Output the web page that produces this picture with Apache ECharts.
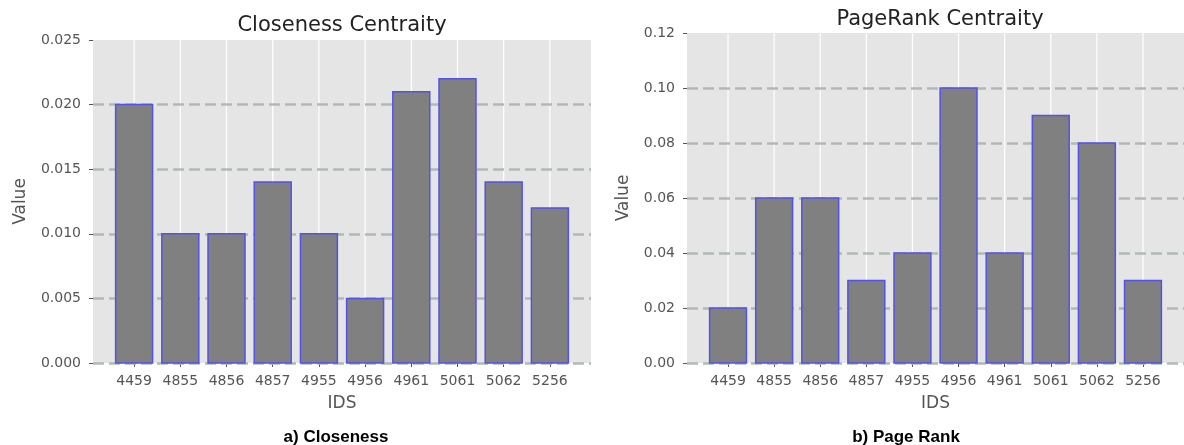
<!DOCTYPE html>
<html>
<head>
<meta charset="utf-8">
<script src="https://cdn.jsdelivr.net/npm/echarts@6/dist/echarts.min.js"></script>
<style>
  html, body { margin: 0; padding: 0; background: #ffffff; }
  #chart { width: 1184px; height: 445px; }
</style>
</head>
<body>
<div id="chart"></div>
<script>
// Node IDs shared by both panels
const ids = ['4459', '4855', '4856', '4857', '4955', '4956', '4961', '5061', '5062', '5256'];

// Closeness centrality per node
const closenessValues = [0.020, 0.010, 0.010, 0.014, 0.010, 0.005, 0.021, 0.022, 0.014, 0.012];
// PageRank centrality per node
const pagerankValues = [0.02, 0.06, 0.06, 0.03, 0.04, 0.10, 0.04, 0.09, 0.08, 0.03];

// Value-axis ranges and tick steps
const closenessAxis = [0, 0.025, 0.005];
const pagerankAxis = [0, 0.12, 0.02];

const idx = ids.map((_, i) => i);
const FONT = 'DejaVu Sans';
const LABEL = '#555555';

function xAxisFor(gridIndex) {
  return {
    type: 'value', gridIndex,
    min: -0.89, max: ids.length - 1 + 0.89,
    axisLine: { show: false, onZero: false },
    splitLine: { show: false },
    axisTick: { show: true, customValues: idx, length: 4, lineStyle: { color: LABEL, width: 1 } },
    axisLabel: {
      customValues: idx, margin: 11,
      formatter: v => ids[Math.round(v)],
      color: LABEL, fontFamily: FONT, fontSize: 14
    },
    name: 'IDS', nameLocation: 'middle', nameGap: 32,
    nameTextStyle: { color: LABEL, fontFamily: FONT, fontSize: 17 }
  };
}

function yAxisFor(gridIndex, range, digits, gap) {
  return {
    type: 'value', gridIndex, z: 1.5,
    min: range[0], max: range[1], interval: range[2],
    axisLine: { show: false, onZero: false },
    axisTick: { show: true, length: 4, lineStyle: { color: LABEL, width: 1 } },
    axisLabel: {
      margin: 12, color: LABEL, fontFamily: FONT, fontSize: 14,
      formatter: v => v.toFixed(digits)
    },
    splitLine: {
      show: true, showMaxLine: false,
      lineStyle: { color: '#b0bab5', width: 2.5, type: [11, 5] }
    },
    name: 'Value', nameLocation: 'middle', nameGap: gap,
    nameTextStyle: { color: LABEL, fontFamily: FONT, fontSize: 17 }
  };
}

// White vertical guides at each category position
function guideSeries(k, top) {
  return {
    type: 'custom', xAxisIndex: k, yAxisIndex: k, z: 1, silent: true,
    data: idx.map(i => [i]),
    renderItem(params, api) {
      const i = api.value(0);
      const a = api.coord([i, top]);
      const b = api.coord([i, 0]);
      return { type: 'line', shape: { x1: a[0], y1: a[1], x2: b[0], y2: b[1] },
               style: { stroke: '#ffffff', lineWidth: 1.2 } };
    }
  };
}

// Bars of width 0.8 category units
function barSeries(k, values) {
  return {
    type: 'custom', xAxisIndex: k, yAxisIndex: k, z: 3,
    data: values.map((v, i) => [i, v]),
    renderItem(params, api) {
      const i = api.value(0), v = api.value(1);
      const p0 = api.coord([i - 0.4, v]);
      const p1 = api.coord([i + 0.4, 0]);
      return { type: 'rect',
               shape: { x: p0[0], y: p0[1], width: p1[0] - p0[0], height: p1[1] - p0[1] },
               style: { fill: '#808080', stroke: '#5252e6', lineWidth: 1.5 } };
    }
  };
}

const chart = echarts.init(document.getElementById('chart'), null, { renderer: 'canvas' });
chart.setOption({
  animation: false,
  backgroundColor: '#ffffff',
  grid: [
    { left: 93, top: 40, width: 498, height: 323, show: true, backgroundColor: '#e5e5e5', borderWidth: 0 },
    { left: 687, top: 33, width: 507, height: 330, show: true, backgroundColor: '#e5e5e5', borderWidth: 0 }
  ],
  xAxis: [xAxisFor(0), xAxisFor(1)],
  yAxis: [yAxisFor(0, closenessAxis, 3, 64), yAxisFor(1, pagerankAxis, 2, 55)],
  series: [
    guideSeries(0, closenessAxis[1]),
    barSeries(0, closenessValues),
    guideSeries(1, pagerankAxis[1]),
    barSeries(1, pagerankValues)
  ],
  graphic: [
    { type: 'text', x: 342, y: 25.5, style: { text: 'Closeness Centraity', fill: '#222222',
      font: '21px "DejaVu Sans"', textAlign: 'center', textVerticalAlign: 'middle' } },
    { type: 'text', x: 940, y: 19.5, style: { text: 'PageRank Centraity', fill: '#222222',
      font: '21px "DejaVu Sans"', textAlign: 'center', textVerticalAlign: 'middle' } },
    { type: 'text', x: 336, y: 437, style: { text: 'a) Closeness', fill: '#000000',
      font: 'bold 17px "Liberation Sans"', textAlign: 'center', textVerticalAlign: 'middle' } },
    { type: 'text', x: 906, y: 437, style: { text: 'b) Page Rank', fill: '#000000',
      font: 'bold 17px "Liberation Sans"', textAlign: 'center', textVerticalAlign: 'middle' } }
  ]
});
</script>
</body>
</html>
